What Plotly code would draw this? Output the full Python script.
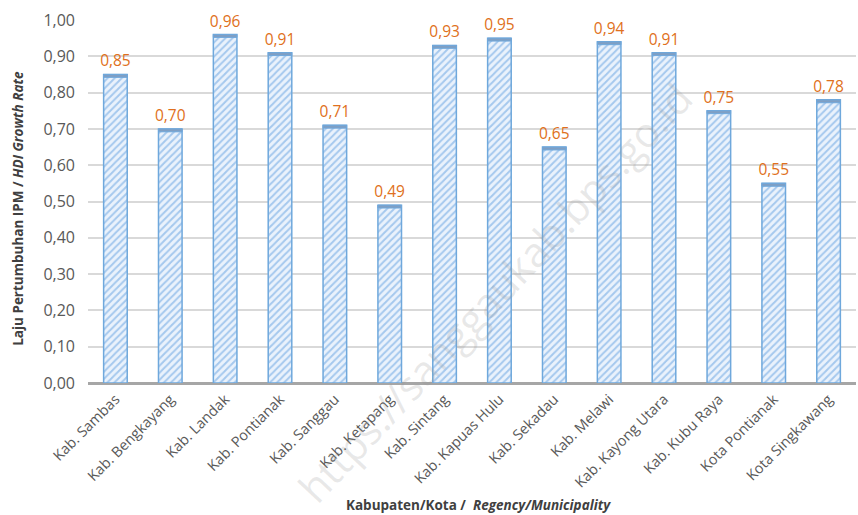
import plotly.graph_objects as go

categories = ["Kab. Sambas", "Kab. Bengkayang", "Kab. Landak", "Kab. Pontianak",
              "Kab. Sanggau", "Kab. Ketapang", "Kab. Sintang", "Kab. Kapuas Hulu",
              "Kab. Sekadau", "Kab. Melawi", "Kab. Kayong Utara", "Kab. Kubu Raya",
              "Kota Pontianak", "Kota Singkawang"]
values = [0.85, 0.70, 0.96, 0.91, 0.71, 0.49, 0.93, 0.95, 0.65, 0.94, 0.91, 0.75, 0.55, 0.78]
tick_vals = [0.0, 0.1, 0.2, 0.3, 0.4, 0.5, 0.6, 0.7, 0.8, 0.9, 1.0]

font_family = "Open Sans, Noto Sans, Liberation Sans, sans-serif"
cap = 0.008

fig = go.Figure()
fig.add_trace(go.Bar(
    x=categories, y=values,
    width=0.43,
    marker=dict(
        color="#ddeaf8",
        line=dict(color="#6fa8dc", width=1.5),
        pattern=dict(shape="/", fgcolor="#5f9ee0", bgcolor="#eaf2fc", size=5, solidity=0.4),
    ),
    texttemplate="%{y:.2f}",
    textposition="outside",
    constraintext="none",
    textfont=dict(color="#e07020", size=15.5, family=font_family),
    cliponaxis=False,
))
fig.add_trace(go.Bar(
    x=categories, y=[cap] * len(values), base=[v - cap for v in values],
    width=0.43,
    marker=dict(color="#7f9fc4", line=dict(color="#6fa8dc", width=1)),
    hoverinfo="skip",
))

fig.update_layout(
    width=858, height=515,
    margin=dict(l=88, r=2, t=20, b=132),
    plot_bgcolor="white", paper_bgcolor="white",
    separators=",.",
    showlegend=False,
    barmode="overlay",
    font=dict(family=font_family, color="#595959"),
    xaxis=dict(
        tickangle=-45,
        tickfont=dict(size=14.5, color="#595959"),
        showgrid=False,
        ticks="",
        ticklabelstandoff=4,
        automargin=False,
    ),
    yaxis=dict(
        range=[0, 1.0],
        tickvals=tick_vals,
        tickformat=".2f",
        tickfont=dict(size=16, color="#595959"),
        gridcolor="#d9d9d9", gridwidth=1.5,
        zeroline=True, zerolinecolor="#a6a6a6", zerolinewidth=3,
        ticks="", ticklen=0,
        ticklabelstandoff=12,
        automargin=False,
    ),
)

fig.add_annotation(
    text="<b>Laju Pertumbuhan IPM / <i>HDI Growth Rate</i></b>",
    xref="paper", yref="paper", x=-0.091, y=0.48,
    xanchor="center", yanchor="middle",
    showarrow=False, textangle=-90,
    font=dict(size=13.5, color="#404040", family=font_family),
)
fig.add_annotation(
    text="<b>Kabupaten/Kota /  <i>Regency/Municipality</i></b>",
    xref="paper", yref="paper", x=0.508, y=-0.337,
    xanchor="center", yanchor="middle",
    showarrow=False,
    font=dict(size=13.5, color="#404040", family=font_family),
)

fig.add_annotation(
    text="https://sanggaukab.bps.go.id",
    xref="paper", yref="paper", x=0.53, y=0.25,
    xanchor="center", yanchor="middle",
    showarrow=False, textangle=-47,
    font=dict(size=41, color="rgba(150,150,150,0.22)", family=font_family),
)

fig.write_html("out.html", config={"displayModeBar": False},
               post_script="document.body.style.margin='0';")
